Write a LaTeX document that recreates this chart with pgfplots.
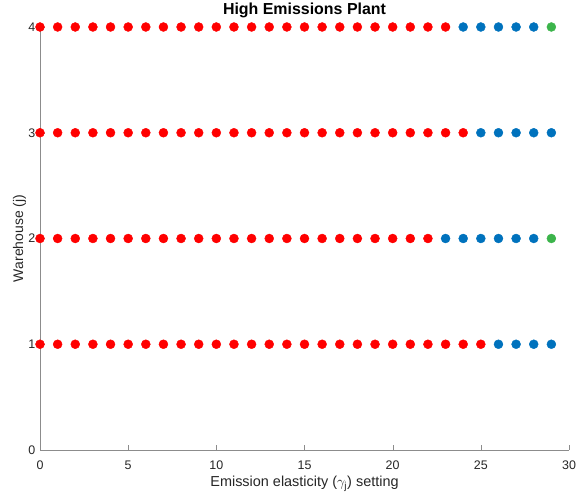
\documentclass[border=0pt]{standalone}
\usepackage{pgfplots}
\pgfplotsset{compat=1.18}
\usepackage{fontspec}
\setmainfont{Liberation Sans}
\definecolor{mred}{RGB}{255,0,0}
\definecolor{mblue}{RGB}{0,114,189}
\definecolor{mgreen}{RGB}{60,180,75}
\definecolor{axgray}{RGB}{140,140,140}
\definecolor{txtgray}{RGB}{38,38,38}
\begin{document}
\begin{tikzpicture}
\begin{axis}[
  name=a, at={(0,0)}, anchor=south west,
  scale only axis, width=529bp, height=423bp,
  xmin=0, xmax=30, ymin=0, ymax=4,
  axis lines=left, axis line style={-, draw=axgray},
  xtick={0,5,...,30}, ytick={0,1,2,3,4},
  tick align=inside, major tick length=5bp,
  tick style={axgray},
  clip=false,
  /pgf/number format/assume math mode=true,
  xticklabel style={font=\fontsize{12.5}{14}\selectfont, text=txtgray, anchor=base, yshift=-19bp},
  yticklabel style={font=\fontsize{12.5}{14}\selectfont, text=txtgray, anchor=east, inner sep=0pt, xshift=-4.5bp},
  label style={font=\fontsize{14}{16}\selectfont, text=txtgray},
  xlabel={Emission elasticity ($\gamma_{\mathrm{j}}$) setting},
  ylabel={Warehouse (j)},
  title={High Emissions Plant},
  title style={font=\bfseries\fontsize{16}{18}\selectfont, at={(axis description cs:0.5,1)}, anchor=base, yshift=7bp, inner sep=0pt},
  xlabel style={font=\fontsize{14.5}{16}\selectfont, at={(axis description cs:0.5,-0.087)}, anchor=base, inner sep=0pt},
  ylabel style={at={(axis description cs:-0.0321,0.5)}, anchor=base, inner sep=0pt},
]
\addplot[only marks, mark=*, mark size=4.5bp, color=mred] table {
x y
0 4
1 4
2 4
3 4
4 4
5 4
6 4
7 4
8 4
9 4
10 4
11 4
12 4
13 4
14 4
15 4
16 4
17 4
18 4
19 4
20 4
21 4
22 4
23 4
0 3
1 3
2 3
3 3
4 3
5 3
6 3
7 3
8 3
9 3
10 3
11 3
12 3
13 3
14 3
15 3
16 3
17 3
18 3
19 3
20 3
21 3
22 3
23 3
24 3
0 2
1 2
2 2
3 2
4 2
5 2
6 2
7 2
8 2
9 2
10 2
11 2
12 2
13 2
14 2
15 2
16 2
17 2
18 2
19 2
20 2
21 2
22 2
0 1
1 1
2 1
3 1
4 1
5 1
6 1
7 1
8 1
9 1
10 1
11 1
12 1
13 1
14 1
15 1
16 1
17 1
18 1
19 1
20 1
21 1
22 1
23 1
24 1
25 1
};
\addplot[only marks, mark=*, mark size=4.5bp, color=mblue] table {
x y
24 4
25 4
26 4
27 4
28 4
25 3
26 3
27 3
28 3
29 3
23 2
24 2
25 2
26 2
27 2
28 2
26 1
27 1
28 1
29 1
};
\addplot[only marks, mark=*, mark size=4.5bp, color=mgreen] table {
x y
29 4
29 2
};
\end{axis}
\pgfresetboundingbox
\path[use as bounding box] (-40bp,-45bp) rectangle (537bp,450bp);
\end{tikzpicture}
\end{document}
